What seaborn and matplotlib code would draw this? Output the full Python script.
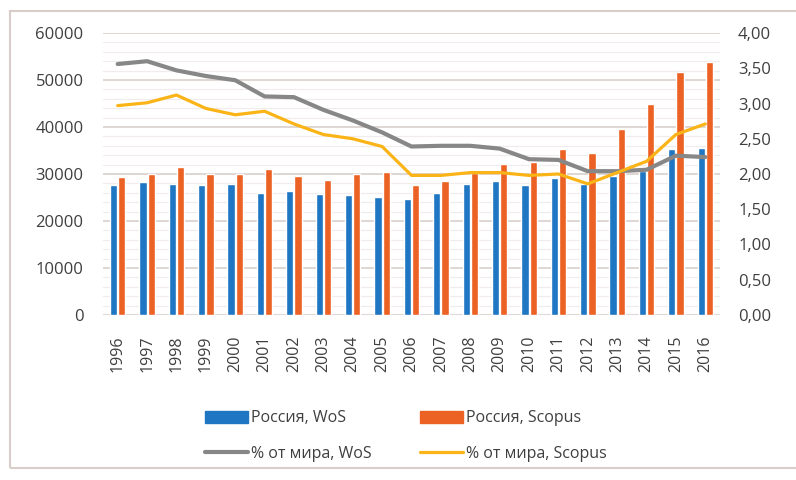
import seaborn as sns
import matplotlib.pyplot as plt
import matplotlib.patches as mpatches
from matplotlib.ticker import MultipleLocator, FuncFormatter
import numpy as np
import pandas as pd

years = list(range(1996, 2017))
wos_count = [27600, 28200, 27800, 27600, 27800, 25900, 26400, 25800, 25600, 25200,
             24600, 25900, 27900, 28600, 27700, 29100, 27900, 29600, 30700, 35400, 35600]
scopus_count = [29300, 30000, 31400, 30000, 30000, 31100, 29500, 28700, 29900, 30500,
                27600, 28600, 30200, 32100, 32500, 35400, 34500, 39600, 45000, 51600, 53900]
wos_share = [3.56, 3.60, 3.47, 3.39, 3.33, 3.10, 3.09, 2.91, 2.76, 2.59,
             2.39, 2.40, 2.40, 2.36, 2.21, 2.20, 2.04, 2.04, 2.06, 2.26, 2.24]
scopus_share = [2.97, 3.01, 3.12, 2.93, 2.84, 2.89, 2.71, 2.56, 2.50, 2.39,
                1.98, 1.98, 2.02, 2.02, 1.98, 2.00, 1.86, 2.02, 2.18, 2.56, 2.71]

bar_labels = ['Россия, WoS', 'Россия, Scopus']
line_labels = ['% от мира, WoS', '% от мира, Scopus']
colors_bar = ['#1f76c3', '#ec6224']
colors_line = ['#878787', '#fbb418']

sns.set_style('white')
plt.rcParams['font.family'] = ['Open Sans', 'DejaVu Sans']
txt = '#3f3f3f'

df = pd.DataFrame({
    'year': years * 2,
    'count': wos_count + scopus_count,
    'src': [bar_labels[0]] * len(years) + [bar_labels[1]] * len(years),
})

fig = plt.figure(figsize=(7.96, 4.8), dpi=100)
ax = fig.add_axes([103 / 796, 1 - 315 / 480, 617 / 796, 282 / 480])

sns.barplot(data=df, x='year', y='count', hue='src', hue_order=bar_labels,
            palette=colors_bar, native_scale=True, width=0.56, gap=0.12,
            saturation=1, ax=ax, zorder=3)
ax.get_legend().remove()

ax2 = ax.twinx()
sns.lineplot(x=years, y=wos_share, color=colors_line[0], lw=3.0, ax=ax2,
             label=line_labels[0], zorder=5)
sns.lineplot(x=years, y=scopus_share, color=colors_line[1], lw=2.3, ax=ax2,
             label=line_labels[1], zorder=6)
ax2.get_legend().remove()

ax.set_xlim(years[0] - 0.5, years[-1] + 0.5)
ax.set_ylim(0, 60000)
ax2.set_ylim(0, 4)
ax.yaxis.set_major_locator(MultipleLocator(10000))
ax.yaxis.set_minor_locator(MultipleLocator(2000))
ax2.yaxis.set_major_locator(MultipleLocator(0.5))
ax2.yaxis.set_major_formatter(FuncFormatter(lambda v, p: f'{v:.2f}'.replace('.', ',')))
ax.set_xticks(years)
ax.set_xticklabels([str(y) for y in years], rotation=90)

ax.set_axisbelow(True)
ax.grid(axis='y', which='major', color='#d9d0cc', lw=1.2)
ax.grid(axis='y', which='minor', color='#f1eceb', lw=0.8)
ax.grid(axis='x', visible=False)
ax2.grid(False)
for a in (ax, ax2):
    for s in a.spines.values():
        s.set_visible(False)
    a.set_xlabel('')
    a.set_ylabel('')

ax.tick_params(axis='x', length=0, pad=15, labelsize=11.5, labelcolor=txt)
ax.tick_params(axis='y', which='both', length=0, pad=14, labelsize=12, labelcolor=txt)
ax2.tick_params(axis='y', length=0, pad=13, labelsize=12, labelcolor=txt)

# legend: bars on first row, lines on second
bh = [mpatches.Patch(color=c) for c in colors_bar]
lh, _ = ax2.get_legend_handles_labels()
handles = [bh[0], lh[0], bh[1], lh[1]]
labels = [bar_labels[0], line_labels[0], bar_labels[1], line_labels[1]]
fig.legend(handles, labels, ncol=2, loc='center', bbox_to_anchor=(406 / 796, 1 - 436 / 480),
           frameon=False, fontsize=11.5, handlelength=2.7, handleheight=0.75,
           handletextpad=0.2, columnspacing=3.0, labelspacing=1.2, labelcolor=txt)

# outer frame
fig.add_artist(mpatches.Rectangle((10 / 796, 1 - 468 / 480), 830 / 796, 457 / 480,
                                  transform=fig.transFigure, fill=False,
                                  edgecolor='#d8cdc9', lw=1.5))

fig.savefig('out.png', dpi=100)
